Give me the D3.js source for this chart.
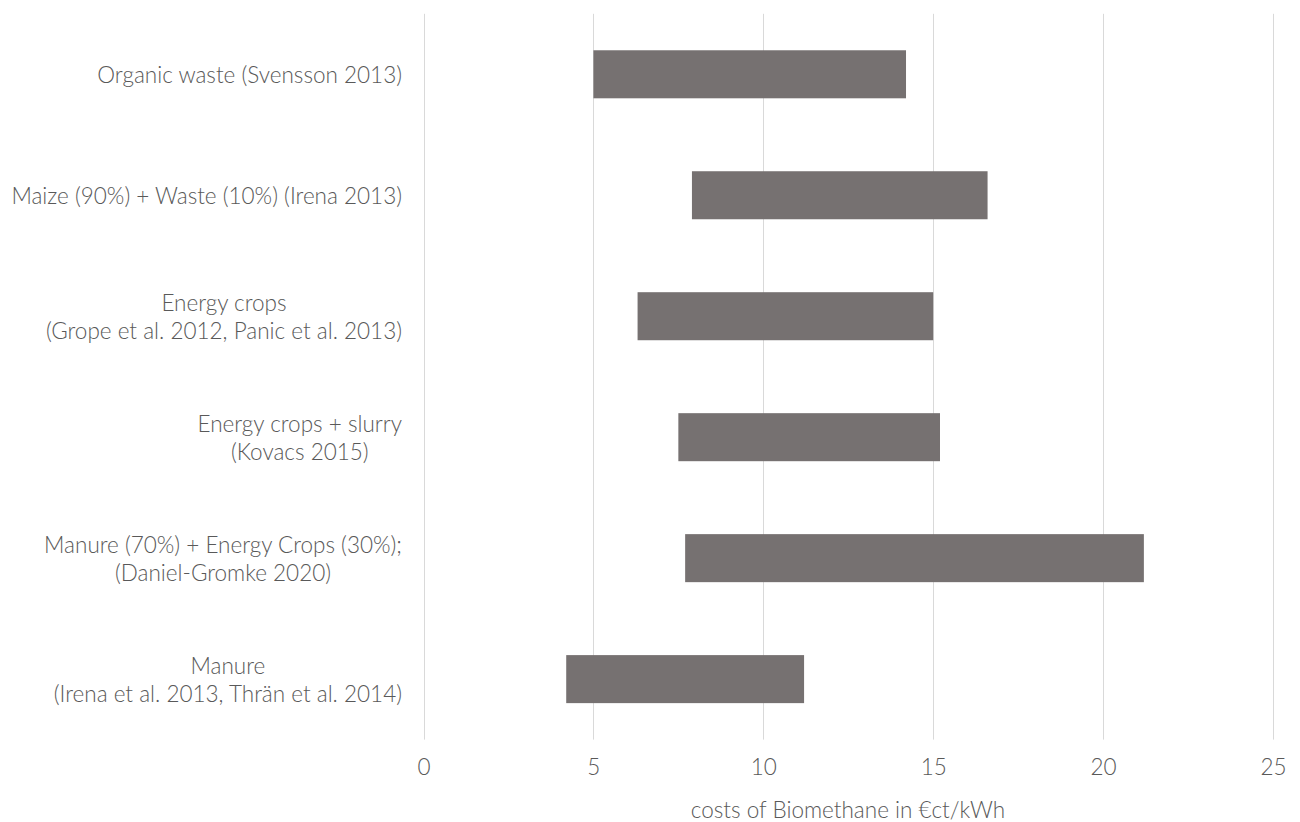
<!DOCTYPE html>
<html>
<head>
<meta charset="utf-8">
<script src="https://cdn.jsdelivr.net/npm/d3@7"></script>
<style>
  html, body { margin: 0; padding: 0; background: #fff; }
  svg { display: block; }
  text { font-family: Lato, "Open Sans", sans-serif; font-weight: 300; fill: #595959; }
</style>
</head>
<body>
<svg id="chart" width="1300" height="822"></svg>
<script>
// ---- data ----
const categories = [
  ["Organic waste (Svensson 2013)"],
  ["Maize (90%) + Waste (10%) (Irena 2013)"],
  ["Energy crops", "(Grope et al. 2012, Panic et al. 2013)"],
  ["Energy crops + slurry", "(Kovacs 2015)"],
  ["Manure (70%) + Energy Crops (30%);", "(Daniel-Gromke 2020)"],
  ["Manure", "(Irena et al. 2013, Thrän et al. 2014)"]
];
const lowValues  = [5.0, 7.9, 6.3, 7.5, 7.7, 4.2];
const highValues = [14.2, 16.6, 15.0, 15.2, 21.2, 11.2];
const tickValues = [0, 5, 10, 15, 20, 25];
const axisTitle = "costs of Biomethane in €ct/kWh";

const rows = categories.map((c, i) => ({ key: i, lines: c, lo: lowValues[i], hi: highValues[i] }));

const svg = d3.select("#chart");
const x = d3.scaleLinear().domain([0, 25]).range([423.5, 1273]);
const y = d3.scaleBand().domain(rows.map(r => r.key)).range([13.8, 739.6])
  .paddingInner(0.603).paddingOuter(0.3015);

const fs = 22.5;

// gridlines
svg.append("g").selectAll("line").data(tickValues).join("line")
  .attr("x1", d => Math.round(x(d)) + 0.5).attr("x2", d => Math.round(x(d)) + 0.5)
  .attr("y1", 13.8).attr("y2", 739.6)
  .attr("stroke", "#d9d9d9").attr("stroke-width", 1);

// bars
svg.append("g").selectAll("rect").data(rows).join("rect")
  .attr("x", d => x(d.lo))
  .attr("width", d => x(d.hi) - x(d.lo))
  .attr("y", d => y(d.key))
  .attr("height", y.bandwidth())
  .attr("fill", "#767171");

// tick labels via axis
const axisG = svg.append("g").attr("transform", "translate(0,739.6)")
  .call(d3.axisBottom(x).tickValues(tickValues).tickSize(0).tickPadding(19));
axisG.select(".domain").remove();
axisG.selectAll("text").attr("font-size", fs).attr("fill", "#595959")
  .style("font-family", "Lato, 'Open Sans', sans-serif").style("font-weight", 300);

// axis title
svg.append("text").attr("x", 848).attr("y", 809)
  .attr("text-anchor", "middle").attr("dominant-baseline", "central")
  .attr("font-size", fs).text(axisTitle);

// category labels
const labelRight = 402;
const lineH = 28;
const lg = svg.append("g");
rows.forEach(r => {
  const g = lg.append("g");
  const n = r.lines.length;
  const cy = y(r.key) + y.bandwidth() / 2;
  const texts = r.lines.map((ln, j) => g.append("text")
    .attr("font-size", fs)
    .attr("dominant-baseline", "central")
    .attr("y", cy + (j - (n - 1) / 2) * lineH)
    .text(ln));
  const widths = texts.map(t => t.node().getComputedTextLength());
  const maxW = d3.max(widths);
  texts.forEach(t => t.attr("text-anchor", "middle").attr("x", labelRight - maxW / 2));
});
</script>
</body>
</html>
